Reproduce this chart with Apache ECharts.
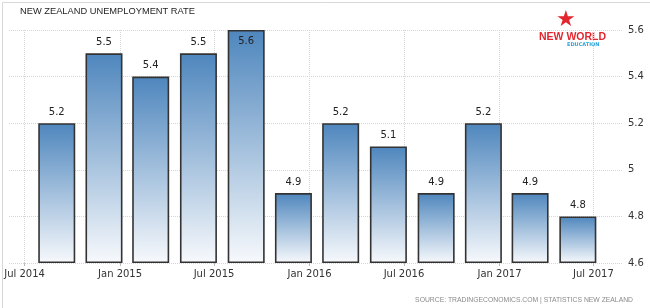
<!DOCTYPE html>
<html><head><meta charset="utf-8">
<script src="https://cdn.jsdelivr.net/npm/echarts@6/dist/echarts.min.js"></script>
<style>html,body{margin:0;padding:0;background:#fff}#c{width:650px;height:308px}</style>
</head><body><div id="c"></div>
<script>
const chartTitle = 'NEW ZEALAND UNEMPLOYMENT RATE';
const sourceText = 'SOURCE: TRADINGECONOMICS.COM | STATISTICS NEW ZEALAND';
const quarters = ['2014-09-01','2014-12-01','2015-03-01','2015-06-01','2015-09-01','2015-12-01','2016-03-01','2016-06-01','2016-09-01','2016-12-01','2017-03-01','2017-06-01'];
const rates = [5.2, 5.5, 5.4, 5.5, 5.6, 4.9, 5.2, 5.1, 4.9, 5.2, 4.9, 4.8];
const yTicks = [4.6, 4.8, 5, 5.2, 5.4, 5.6];
const monthNames = ['Jan','Feb','Mar','Apr','May','Jun','Jul','Aug','Sep','Oct','Nov','Dec'];

// visible time range of the x axis
const viewMin = new Date(2014, 5, 1).getTime();
const viewMax = new Date(2017, 7, 27).getTime();
const DAY = 86400000;

const W = 650, gridLeft = 9, gridRight = 27, barW = 37;
const axisLen = W - gridLeft - gridRight;
// ECharts widens a bar base axis by the bar width; pre-shrink so the final view matches
const span = viewMax - viewMin;
const inner = span * (1 - barW / axisLen);
const xMin = viewMin + (span - inner) / 2;
const xMax = viewMax - (span - inner) / 2;

const chart = echarts.init(document.getElementById('c'), null, {renderer: 'canvas'});
const labelFont = 'DejaVu Sans';
const data = quarters.map((d, i) => ({
  value: [d, rates[i]],
  label: rates[i] >= yTicks[yTicks.length - 1] ? {position: 'insideTop', distance: 6} : undefined
}));

chart.setOption({
  animation: false,
  backgroundColor: '#fff',
  grid: {left: gridLeft, right: gridRight, top: 30, bottom: 45},
  xAxis: {
    type: 'time',
    min: xMin, max: xMax,
    minInterval: 180 * DAY, maxInterval: 184 * DAY,
    axisLine: {show: false},
    axisTick: {show: true, length: 3, lineStyle: {color: '#bbb'}},
    axisLabel: {
      color: '#333', fontFamily: labelFont, fontSize: 10, margin: 6,
      showMinLabel: false, showMaxLabel: false,
      formatter: v => { const d = new Date(v); return monthNames[d.getMonth()] + ' ' + d.getFullYear(); }
    },
    splitLine: {show: true, showMinLine: false, showMaxLine: false, lineStyle: {color: '#d6d6d6', type: 'dotted', width: 1}}
  },
  yAxis: {
    type: 'value', position: 'right',
    min: yTicks[0], max: yTicks[yTicks.length - 1], interval: 0.2,
    startValue: yTicks[0],
    axisLine: {show: false}, axisTick: {show: false},
    axisLabel: {color: '#333', fontFamily: labelFont, fontSize: 10, margin: 5,
      formatter: v => String(Math.round(v * 10) / 10)},
    splitLine: {show: true, lineStyle: {color: '#d6d6d6', type: 'dotted', width: 1}}
  },
  series: [{
    type: 'bar',
    data: data,
    barWidth: barW,
    clip: false,
    itemStyle: {
      borderColor: '#333', borderWidth: 1.6,
      color: {type: 'linear', x: 0, y: 0, x2: 0, y2: 1, colorStops: [
        {offset: 0, color: '#4e86bd'}, {offset: 1, color: '#f7f9fc'}]}
    },
    label: {show: true, position: 'top', distance: 6, color: '#222', fontFamily: labelFont, fontSize: 10,
      formatter: p => String(p.value[1])}
  }],
  graphic: [
    {type: 'rect', left: 0, top: 0, shape: {width: 649, height: 307}, style: {fill: 'none', stroke: '#d8d8d8', lineWidth: 1}, silent: true},
    {type: 'text', left: 20, top: 7, style: {text: chartTitle, fill: '#1e1e1e', font: '9.3px "Liberation Sans"'}},
    {type: 'text', right: 17, top: 297, style: {text: sourceText, fill: '#8a8a8a', font: '6.8px "Liberation Sans"'}},
    {type: 'text', left: 556, top: 9, style: {text: '★', fill: '#e3262e', font: 'bold 22px "DejaVu Sans"'}},
    {type: 'text', left: 539, top: 32, style: {text: 'NEW WORLD', fill: '#e3262e', font: 'bold 10.5px "Liberation Sans"'}},
    {type: 'text', left: 567, top: 42, style: {text: 'EDUCATION', fill: '#2aa3dc', font: 'bold 5px "DejaVu Sans"'}}
  ]
});
</script></body></html>
